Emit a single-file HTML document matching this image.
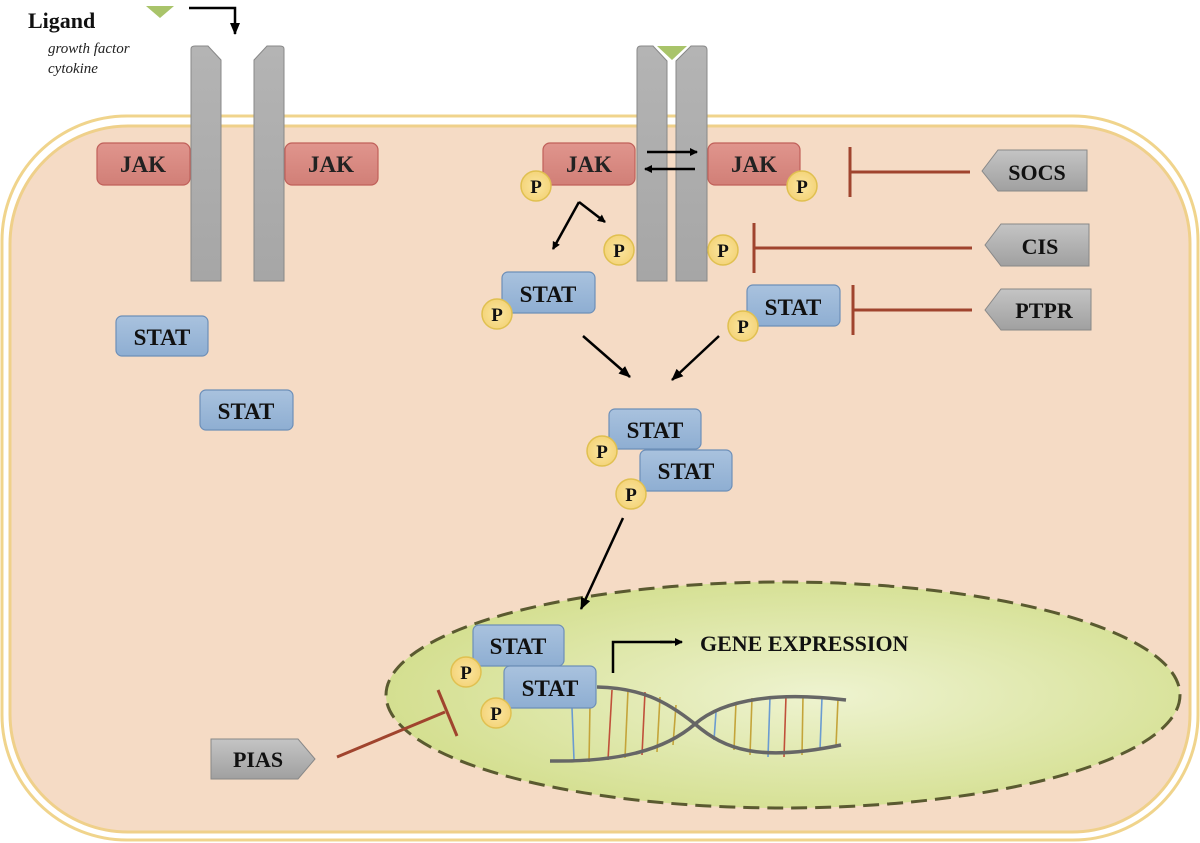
<!DOCTYPE html>
<html><head><meta charset="utf-8"><style>html,body{margin:0;padding:0;background:#fff}svg{display:block}</style></head>
<body>
<svg width="1200" height="843" viewBox="0 0 1200 843" xmlns="http://www.w3.org/2000/svg" font-family="Liberation Serif, serif" font-weight="bold">
<defs>
<linearGradient id="gr" x1="0" x2="0" y1="0" y2="1"><stop offset="0" stop-color="#b4b4b4"/><stop offset="1" stop-color="#a6a6a6"/></linearGradient>
<linearGradient id="jak" x1="0" x2="0" y1="0" y2="1"><stop offset="0" stop-color="#e0958d"/><stop offset="1" stop-color="#d17f77"/></linearGradient>
<linearGradient id="stat" x1="0" x2="0" y1="0" y2="1"><stop offset="0" stop-color="#a9c2de"/><stop offset="1" stop-color="#8eaed2"/></linearGradient>
<radialGradient id="nuc" cx="0.55" cy="0.5" r="0.55"><stop offset="0" stop-color="#eef3d0"/><stop offset="1" stop-color="#d4df90"/></radialGradient>
<radialGradient id="pg" cx="0.5" cy="0.5" r="0.5"><stop offset="0" stop-color="#fbe6a0"/><stop offset="1" stop-color="#f4d47a"/></radialGradient>
<linearGradient id="tag" x1="0" x2="0" y1="0" y2="1"><stop offset="0" stop-color="#c4c4c4"/><stop offset="1" stop-color="#a0a0a0"/></linearGradient>
<marker id="ah" markerWidth="8" markerHeight="8" refX="7" refY="4" orient="auto" markerUnits="userSpaceOnUse"><path d="M0,0 L8,4 L0,8 z" fill="#000"/></marker>
<marker id="ah2" markerWidth="12" markerHeight="10" refX="11" refY="5" orient="auto" markerUnits="userSpaceOnUse"><path d="M0,0 L12,5 L0,10 z" fill="#000"/></marker>
</defs>
<rect x="2" y="116" width="1196" height="724" rx="125" fill="#fff" stroke="#f0d48c" stroke-width="3"/>
<rect x="10" y="126" width="1180" height="706" rx="118" fill="#f5dbc5" stroke="#efd08a" stroke-width="3"/>
<polygon points="146,6 174,6 160,18" fill="#a9c46a"/>
<text x="28" y="28" font-size="22" fill="#111">Ligand</text>
<text x="48" y="53" font-size="15" font-weight="normal" font-style="italic" fill="#222">growth factor</text>
<text x="48" y="73" font-size="15" font-weight="normal" font-style="italic" fill="#222">cytokine</text>
<polyline points="189,8 235,8 235,34" fill="none" stroke="#000" stroke-width="2.5" marker-end="url(#ah2)"/>
<path d="M191,49 Q191,46 195,46 L208,46 L221,60 L221,281 L191,281 Z" fill="url(#gr)" stroke="#888" stroke-width="1"/>
<path d="M284,49 Q284,46 280,46 L267,46 L254,60 L254,281 L284,281 Z" fill="url(#gr)" stroke="#888" stroke-width="1"/>
<rect x="97" y="143" width="93" height="42" rx="7" fill="url(#jak)" stroke="#c0605a" stroke-width="1.2"/>
<text x="143" y="172" font-size="23" text-anchor="middle" fill="#222">JAK</text>
<rect x="285" y="143" width="93" height="42" rx="7" fill="url(#jak)" stroke="#c0605a" stroke-width="1.2"/>
<text x="331" y="172" font-size="23" text-anchor="middle" fill="#222">JAK</text>
<path d="M637,50 Q637,46 641,46 L653,46 L667,61 L667,281 L637,281 Z" fill="url(#gr)" stroke="#888" stroke-width="1"/>
<path d="M707,50 Q707,46 703,46 L691,46 L676,61 L676,281 L707,281 Z" fill="url(#gr)" stroke="#888" stroke-width="1"/>
<polygon points="657,46 687,46 672,60" fill="#a9c46a"/>
<rect x="543" y="143" width="92" height="42" rx="7" fill="url(#jak)" stroke="#c0605a" stroke-width="1.2"/>
<text x="589" y="172" font-size="23" text-anchor="middle" fill="#222">JAK</text>
<rect x="708" y="143" width="92" height="42" rx="7" fill="url(#jak)" stroke="#c0605a" stroke-width="1.2"/>
<text x="754" y="172" font-size="23" text-anchor="middle" fill="#222">JAK</text>
<line x1="647" y1="152" x2="697" y2="152" stroke="#000" stroke-width="2.5" marker-end="url(#ah)"/>
<line x1="695" y1="169" x2="645" y2="169" stroke="#000" stroke-width="2.5" marker-end="url(#ah)"/>
<line x1="579" y1="202" x2="553" y2="249" stroke="#000" stroke-width="2.5" marker-end="url(#ah)"/>
<line x1="579" y1="202" x2="605" y2="222" stroke="#000" stroke-width="2.5" marker-end="url(#ah)"/>
<g stroke="#a0442e" stroke-width="3" fill="none">
<line x1="850" y1="172" x2="970" y2="172"/><line x1="850" y1="147" x2="850" y2="197"/>
<line x1="754" y1="248" x2="972" y2="248"/><line x1="754" y1="223" x2="754" y2="273"/>
<line x1="853" y1="310" x2="972" y2="310"/><line x1="853" y1="285" x2="853" y2="335"/>
</g>
<g stroke="#888" stroke-width="1" fill="url(#tag)">
<polygon points="982,171 998,150 1087,150 1087,191 998,191"/>
<polygon points="985,245 1001,224 1089,224 1089,266 1001,266"/>
<polygon points="985,310 1001,289 1091,289 1091,330 1001,330"/>
<polygon points="211,739 298,739 315,759 298,779 211,779"/>
</g>
<text x="1037" y="180" font-size="22" text-anchor="middle" fill="#111">SOCS</text>
<text x="1040" y="254" font-size="22" text-anchor="middle" fill="#111">CIS</text>
<text x="1044" y="318" font-size="22" text-anchor="middle" fill="#111">PTPR</text>
<text x="258" y="767" font-size="22" text-anchor="middle" fill="#111">PIAS</text>
<ellipse cx="783" cy="695" rx="397" ry="113" fill="url(#nuc)" stroke="#5a5a30" stroke-width="3" stroke-dasharray="16,8"/>
<g stroke="#a0442e" stroke-width="3" fill="none">
<line x1="337" y1="757" x2="445" y2="712"/><line x1="438" y1="690" x2="457" y2="736"/>
</g>
<g stroke-width="1.6">
<line x1="572" y1="708" x2="574" y2="760" stroke="#6a9bd1"/><line x1="590" y1="705" x2="589" y2="762" stroke="#c4a43a"/>
<line x1="612" y1="690" x2="608" y2="760" stroke="#c0503a"/><line x1="628" y1="690" x2="625" y2="758" stroke="#c4a43a"/>
<line x1="645" y1="692" x2="642" y2="755" stroke="#c0503a"/><line x1="660" y1="697" x2="657" y2="752" stroke="#c4a43a"/>
<line x1="676" y1="705" x2="673" y2="745" stroke="#c4a43a"/><line x1="716" y1="712" x2="714" y2="740" stroke="#6a9bd1"/>
<line x1="736" y1="702" x2="734" y2="750" stroke="#c4a43a"/><line x1="752" y1="698" x2="750" y2="755" stroke="#c4a43a"/>
<line x1="770" y1="697" x2="768" y2="757" stroke="#6a9bd1"/><line x1="786" y1="696" x2="784" y2="757" stroke="#c0503a"/>
<line x1="803" y1="696" x2="802" y2="755" stroke="#c4a43a"/><line x1="822" y1="697" x2="820" y2="750" stroke="#6a9bd1"/>
<line x1="838" y1="699" x2="836" y2="746" stroke="#c4a43a"/>
</g>
<path d="M597,687 C640,688 665,700 695,724 C725,750 760,762 841,745" fill="none" stroke="#666" stroke-width="3.5"/>
<path d="M550,761 C620,762 665,750 695,724 C725,698 780,692 846,700" fill="none" stroke="#666" stroke-width="3.5"/>
<polyline points="613,673 613,642 672,642" fill="none" stroke="#000" stroke-width="2.5"/>
<line x1="660" y1="642" x2="682" y2="642" stroke="#000" stroke-width="2.5" marker-end="url(#ah)"/>
<text x="700" y="651" font-size="22" fill="#111">GENE EXPRESSION</text>
<line x1="583" y1="336" x2="630" y2="377" stroke="#000" stroke-width="2.5" marker-end="url(#ah2)"/>
<line x1="719" y1="336" x2="672" y2="380" stroke="#000" stroke-width="2.5" marker-end="url(#ah2)"/>
<line x1="623" y1="518" x2="581" y2="609" stroke="#000" stroke-width="2.5" marker-end="url(#ah2)"/>
<g stroke="#6d8fb8" stroke-width="1.2" fill="url(#stat)">
<rect x="116" y="316" width="92" height="40" rx="6"/>
<rect x="200" y="390" width="93" height="40" rx="6"/>
<rect x="502" y="272" width="93" height="41" rx="6"/>
<rect x="747" y="285" width="93" height="41" rx="6"/>
<rect x="609" y="409" width="92" height="40" rx="6"/>
<rect x="640" y="450" width="92" height="41" rx="6"/>
<rect x="473" y="625" width="91" height="41" rx="6"/>
<rect x="504" y="666" width="92" height="42" rx="6"/>
</g>
<g font-size="23" text-anchor="middle" fill="#111">
<text x="162" y="345">STAT</text><text x="246" y="419">STAT</text>
<text x="548" y="302">STAT</text><text x="793" y="315">STAT</text>
<text x="655" y="438">STAT</text><text x="686" y="479">STAT</text>
<text x="518" y="654">STAT</text><text x="550" y="696">STAT</text>
</g>
<g stroke="#e0c050" stroke-width="1.5" fill="url(#pg)">
<circle cx="536" cy="186" r="15"/><circle cx="802" cy="186" r="15"/>
<circle cx="619" cy="250" r="15"/><circle cx="723" cy="250" r="15"/>
<circle cx="497" cy="314" r="15"/><circle cx="743" cy="326" r="15"/>
<circle cx="602" cy="451" r="15"/><circle cx="631" cy="494" r="15"/>
<circle cx="466" cy="672" r="15"/><circle cx="496" cy="713" r="15"/>
</g>
<g font-size="19" text-anchor="middle" fill="#111">
<text x="536" y="193">P</text><text x="802" y="193">P</text>
<text x="619" y="257">P</text><text x="723" y="257">P</text>
<text x="497" y="321">P</text><text x="743" y="333">P</text>
<text x="602" y="458">P</text><text x="631" y="501">P</text>
<text x="466" y="679">P</text><text x="496" y="720">P</text>
</g>
</svg>
</body></html>
